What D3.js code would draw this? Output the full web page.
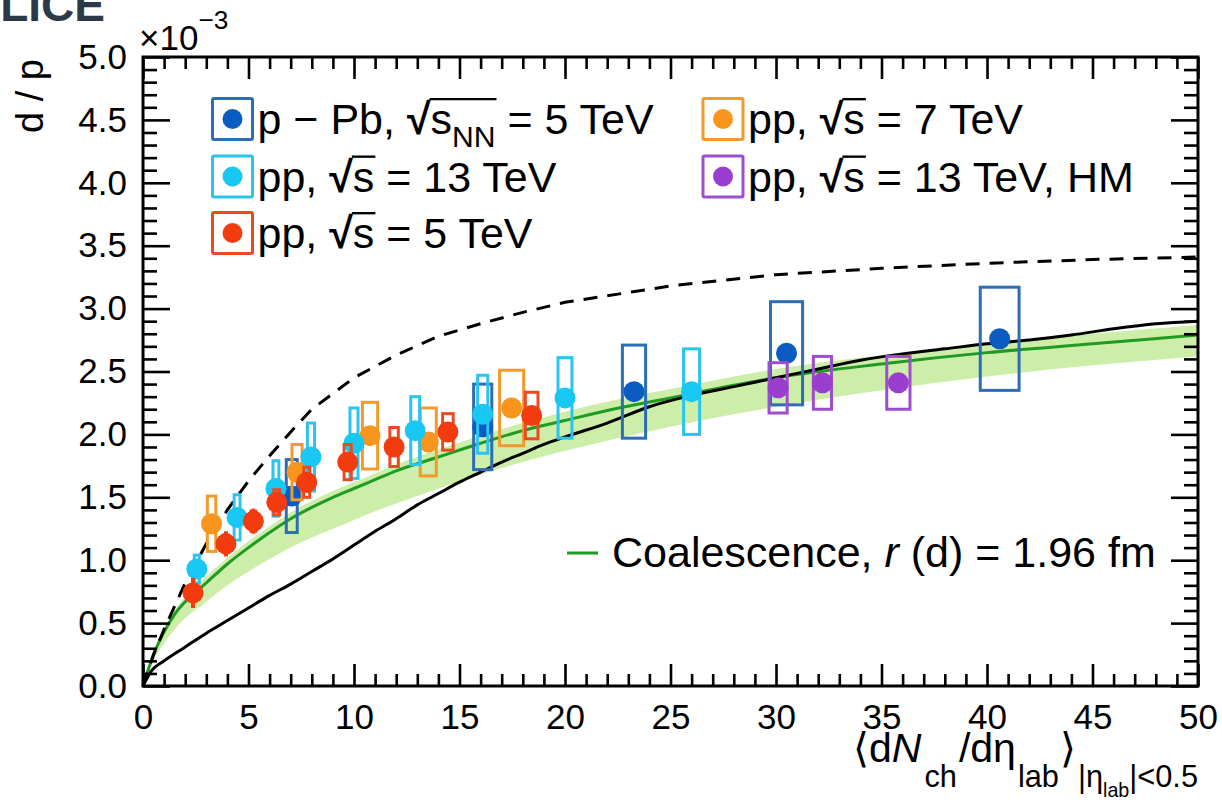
<!DOCTYPE html>
<html><head><meta charset="utf-8">
<script src="https://cdn.jsdelivr.net/npm/d3@7"></script>
<style>
body{margin:0;background:#fff;overflow:hidden;}
svg{display:block;}
text{font-family:"Liberation Sans",Arial,sans-serif;}
</style></head><body>
<svg id="chart" width="1222" height="800"></svg>
<script>
// ---------- data ----------
const xMajorTicks = [0, 5, 10, 15, 20, 25, 30, 35, 40, 45, 50];
const yMajorTicks = [0, 0.5, 1, 1.5, 2, 2.5, 3, 3.5, 4, 4.5, 5];

// p-Pb, sqrt(sNN) = 5 TeV
const pPbX    = [7.05, 16.1, 23.27, 30.5, 40.6];
const pPbY    = [1.51, 2.06, 2.34, 2.645, 2.76];
const pPbStat = [0.04, 0.04, 0.04, 0.04, 0.04];
const pPbSys  = [0.29, 0.34, 0.37, 0.41, 0.41];
const pPbSysW = [0.26, 0.43, 0.55, 0.76, 0.92];

// pp, sqrt(s) = 13 TeV
const pp13X    = [2.55, 4.46, 6.3, 7.96, 10.0, 12.9, 16.1, 20.0, 26.0];
const pp13Y    = [0.93, 1.34, 1.57, 1.82, 1.93, 2.03, 2.16, 2.29, 2.34];
const pp13Stat = [0.05, 0.05, 0.05, 0.05, 0.04, 0.04, 0.04, 0.04, 0.04];
const pp13Sys  = [0.11, 0.18, 0.22, 0.27, 0.28, 0.27, 0.31, 0.32, 0.34];
const pp13SysW = [0.12, 0.14, 0.14, 0.17, 0.19, 0.21, 0.24, 0.33, 0.38];

// pp, sqrt(s) = 7 TeV
const pp7X    = [3.25, 7.3, 10.76, 13.52, 17.47];
const pp7Y    = [1.29, 1.70, 1.99, 1.94, 2.21];
const pp7Stat = [0.04, 0.04, 0.04, 0.04, 0.04];
const pp7Sys  = [0.22, 0.22, 0.265, 0.27, 0.30];
const pp7SysW = [0.2, 0.24, 0.36, 0.38, 0.57];

// pp, sqrt(s) = 5 TeV
const pp5X    = [2.37, 3.93, 5.23, 6.34, 7.76, 9.7, 11.9, 14.45, 18.42];
const pp5Y    = [0.74, 1.13, 1.31, 1.46, 1.62, 1.78, 1.90, 2.02, 2.15];
const pp5Stat = [0.12, 0.1, 0.1, 0.08, 0.08, 0.06, 0.06, 0.06, 0.06];
const pp5Sys  = [0.06, 0.07, 0.08, 0.1, 0.12, 0.14, 0.155, 0.145, 0.185];
const pp5SysW = [0.1, 0.12, 0.12, 0.14, 0.14, 0.17, 0.2, 0.25, 0.3];

// pp, sqrt(s) = 13 TeV, high multiplicity
const ppHMX    = [30.1, 32.2, 35.8];
const ppHMY    = [2.37, 2.41, 2.41];
const ppHMStat = [0.03, 0.03, 0.03];
const ppHMSys  = [0.2, 0.21, 0.21];
const ppHMSysW = [0.43, 0.43, 0.55];

// coalescence model, r(d) = 1.96 fm: central line and band
const coalX  = [0, 0.5, 1, 1.5, 2, 3, 4, 5, 6, 7, 8, 9, 10, 11, 12, 14, 16, 18, 20, 22, 25, 28, 30, 35, 40, 45, 50];
const coalY  = [0, 0.25, 0.43, 0.57, 0.67, 0.82, 0.97, 1.1, 1.22, 1.33, 1.42, 1.5, 1.57, 1.64, 1.71, 1.82, 1.93, 2.03, 2.11, 2.19, 2.29, 2.39, 2.45, 2.56, 2.65, 2.72, 2.79];
const coalHi = [0, 0.27, 0.46, 0.6, 0.71, 0.87, 1.02, 1.15, 1.27, 1.38, 1.47, 1.55, 1.62, 1.69, 1.76, 1.88, 1.99, 2.09, 2.18, 2.26, 2.36, 2.46, 2.52, 2.63, 2.72, 2.80, 2.87];
const coalLo = [0, 0.2, 0.34, 0.45, 0.54, 0.67, 0.8, 0.91, 1.01, 1.1, 1.18, 1.25, 1.32, 1.39, 1.45, 1.57, 1.68, 1.78, 1.87, 1.95, 2.06, 2.16, 2.22, 2.35, 2.46, 2.55, 2.62];

// dashed model curve
const dashX = [0, 0.5, 1, 2, 3, 4, 5, 6, 7, 8, 10, 12, 14, 16, 18, 20, 25, 30, 35, 40, 45, 50];
const dashY = [0, 0.25, 0.45, 0.82, 1.13, 1.4, 1.63, 1.83, 2.02, 2.2, 2.45, 2.63, 2.78, 2.88, 2.97, 3.05, 3.18, 3.27, 3.32, 3.36, 3.39, 3.41];

// solid black model curve
const solidX = [0, 0.4, 1, 2, 3, 4, 5, 6, 7, 8, 9, 10, 11, 12, 13, 14, 15, 16, 17, 18, 19, 20, 22, 24, 26, 28, 30, 32, 34, 36, 38, 40, 42, 44, 46, 48, 50];
const solidY = [0, 0.12, 0.2, 0.31, 0.42, 0.52, 0.62, 0.72, 0.81, 0.91, 1.01, 1.12, 1.23, 1.33, 1.44, 1.53, 1.62, 1.7, 1.78, 1.85, 1.92, 1.98, 2.09, 2.22, 2.31, 2.38, 2.45, 2.52, 2.59, 2.64, 2.68, 2.72, 2.75, 2.79, 2.84, 2.88, 2.9];

// ---------- layout ----------
const svg = d3.select("#chart");
const P = {l: 143, r: 1198, t: 57, b: 686};
const x = d3.scaleLinear().domain([0, 50]).range([P.l, P.r]);
const y = d3.scaleLinear().domain([0, 5]).range([P.b, P.t]);

const series = [
  {name: "pPb",  xs: pPbX,  ys: pPbY,  st: pPbStat,  sy: pPbSys,  sw: pPbSysW,  fill: "#0b5cc2", box: "#2c6db5"},
  {name: "pp7",  xs: pp7X,  ys: pp7Y,  st: pp7Stat,  sy: pp7Sys,  sw: pp7SysW,  fill: "#f7951c", box: "#f29b2d"},
  {name: "pp13", xs: pp13X, ys: pp13Y, st: pp13Stat, sy: pp13Sys, sw: pp13SysW, fill: "#19c8f2", box: "#2bc4ee"},
  {name: "pp5",  xs: pp5X,  ys: pp5Y,  st: pp5Stat,  sy: pp5Sys,  sw: pp5SysW,  fill: "#f23c10", box: "#e94a22"},
  {name: "ppHM", xs: ppHMX, ys: ppHMY, st: ppHMStat, sy: ppHMSys, sw: ppHMSysW, fill: "#9a3ed0", box: "#9c4fcb"}
];

// ---------- model curves ----------
const band = d3.area()
  .x((d, i) => x(coalX[i]))
  .y0((d, i) => y(coalLo[i]))
  .y1((d, i) => y(coalHi[i]))
  .curve(d3.curveMonotoneX);
svg.append("path").datum(coalX).attr("d", band).attr("fill", "#cdeea8");

svg.append("path").datum(coalX)
  .attr("d", d3.line().x((d, i) => x(coalX[i])).y((d, i) => y(coalY[i])).curve(d3.curveMonotoneX))
  .attr("fill", "none").attr("stroke", "#1f9a22").attr("stroke-width", 3);

svg.append("path").datum(solidX)
  .attr("d", d3.line().x((d, i) => x(solidX[i])).y((d, i) => y(solidY[i])).curve(d3.curveMonotoneX))
  .attr("fill", "none").attr("stroke", "#000").attr("stroke-width", 3);

svg.append("path").datum(dashX)
  .attr("d", d3.line().x((d, i) => x(dashX[i])).y((d, i) => y(dashY[i])))
  .attr("fill", "none").attr("stroke", "#000").attr("stroke-width", 3)
  .attr("stroke-dasharray", "14,10");

// ---------- data points ----------
const gData = svg.append("g");
series.forEach(s => {
  const g = gData.append("g").attr("class", "s-" + s.name);
  const idx = d3.range(s.xs.length);
  g.selectAll("rect.sys").data(idx).join("rect").attr("class", "sys")
    .attr("x", i => x(s.xs[i] - s.sw[i]))
    .attr("width", i => x(s.xs[i] + s.sw[i]) - x(s.xs[i] - s.sw[i]))
    .attr("y", i => y(s.ys[i] + s.sy[i]))
    .attr("height", i => y(s.ys[i] - s.sy[i]) - y(s.ys[i] + s.sy[i]))
    .attr("fill", "none").attr("stroke", s.box).attr("stroke-width", 3);
});
series.forEach(s => {
  const g = gData.select(".s-" + s.name);
  const idx = d3.range(s.xs.length);
  g.selectAll("line.stat").data(idx).join("line").attr("class", "stat")
    .attr("x1", i => x(s.xs[i])).attr("x2", i => x(s.xs[i]))
    .attr("y1", i => y(s.ys[i] + s.st[i])).attr("y2", i => y(s.ys[i] - s.st[i]))
    .attr("stroke", s.fill).attr("stroke-width", 4);
  g.selectAll("circle").data(idx).join("circle")
    .attr("cx", i => x(s.xs[i])).attr("cy", i => y(s.ys[i]))
    .attr("r", 10.5).attr("fill", s.fill);
});

// ---------- axes ----------
const xMinor = d3.range(0, 51, 1).filter(v => v % 5 !== 0);
const yMinor = d3.range(0, 51, 1).map(v => v / 10).filter((v, i) => i % 5 !== 0);

function styleAxis(g) {
  g.select(".domain").remove();
  g.selectAll("line").attr("stroke", "#000").attr("stroke-width", 2.6);
  g.selectAll("text").attr("fill", "#000").attr("font-family", "Liberation Sans, Arial, sans-serif");
}
svg.append("g").attr("transform", `translate(0,${P.b})`)
  .call(d3.axisBottom(x).tickValues(xMajorTicks).tickSize(-22).tickPadding(18).tickFormat(d3.format("d")))
  .call(styleAxis).selectAll("text").attr("font-size", 35);
svg.append("g").attr("transform", `translate(0,${P.b})`)
  .call(d3.axisBottom(x).tickValues(xMinor).tickSize(-12).tickFormat(""))
  .call(styleAxis);
svg.append("g").attr("transform", `translate(0,${P.t})`)
  .call(d3.axisTop(x).tickValues(xMajorTicks).tickSize(-22).tickFormat(""))
  .call(styleAxis);
svg.append("g").attr("transform", `translate(0,${P.t})`)
  .call(d3.axisTop(x).tickValues(xMinor).tickSize(-12).tickFormat(""))
  .call(styleAxis);
svg.append("g").attr("transform", `translate(${P.l},0)`)
  .call(d3.axisLeft(y).tickValues(yMajorTicks).tickSize(-27).tickPadding(16).tickFormat(d3.format(".1f")))
  .call(styleAxis).selectAll("text").attr("font-size", 35);
svg.append("g").attr("transform", `translate(${P.l},0)`)
  .call(d3.axisLeft(y).tickValues(yMinor).tickSize(-14).tickFormat(""))
  .call(styleAxis);
svg.append("g").attr("transform", `translate(${P.r},0)`)
  .call(d3.axisRight(y).tickValues(yMajorTicks).tickSize(-27).tickFormat(""))
  .call(styleAxis);
svg.append("g").attr("transform", `translate(${P.r},0)`)
  .call(d3.axisRight(y).tickValues(yMinor).tickSize(-14).tickFormat(""))
  .call(styleAxis);

svg.append("rect").attr("x", P.l).attr("y", P.t)
  .attr("width", P.r - P.l).attr("height", P.b - P.t)
  .attr("fill", "none").attr("stroke", "#000").attr("stroke-width", 3);

// ---------- rich text helper (sub/superscripts) ----------
function rich(parent, px, py, size, segs, anchor) {
  const t = parent.append("text").attr("x", px).attr("y", py)
    .attr("font-size", size).attr("text-anchor", anchor || "start").attr("fill", "#000");
  let shift = 0;
  segs.forEach(s => {
    const sh = (s.shift || 0) * size;
    const ts = t.append("tspan").text(s.t).attr("dy", sh - shift)
      .attr("font-size", size * (s.scale || 1));
    if (s.it) ts.attr("font-style", "italic");
    if (s.fam) ts.attr("font-family", s.fam);
    if (s.w) ts.attr("font-weight", s.w);
    if (s.dx) ts.attr("dx", s.dx);
    shift = sh;
  });
  return t;
}

// ---------- titles ----------
svg.append("text").attr("x", -33).attr("y", 21)
  .attr("font-family", "DejaVu Sans Mono, monospace").attr("font-weight", "bold")
  .attr("font-size", 46).attr("fill", "#2c3a47").text("ALICE");

rich(svg, 139, 50, 35, [{t: "×10"}, {t: "−3", shift: -0.6, scale: 0.75}]);

svg.append("text").attr("transform", `translate(43,${P.t + 2}) rotate(-90)`)
  .attr("text-anchor", "end").attr("font-size", 38).text("d / p");

rich(svg, 1198, 762, 41, [
  {t: "⟨", fam: "DejaVu Sans"}, {t: "d"}, {t: "N", it: true},
  {t: "ch", shift: 0.6, scale: 0.75, dx: 3}, {t: "/d", shift: 0, dx: 2}, {t: "η"},
  {t: "lab", shift: 0.6, scale: 0.75, dx: 2}, {t: "⟩", shift: 0, fam: "DejaVu Sans", dx: 1},
  {t: "|η", shift: 0.62, scale: 0.75, dx: 2}, {t: "lab", shift: 0.85, scale: 0.48},
  {t: "|<0.5", shift: 0.62, scale: 0.75}
], "end");

// ---------- legend ----------
const LS = 43;
const legend = svg.append("g");
const legendItems = [
  {s: series[0], cx: 232.5, cy: 119, segs: [{t: "p − Pb, "}, {t: "√", w: "bold"}, {t: "s"}, {t: "NN", shift: 0.3, scale: 0.7}, {t: " = 5 TeV", shift: 0}], bar: [9, 11]},
  {s: series[2], cx: 232.5, cy: 176.5, segs: [{t: "pp, "}, {t: "√", w: "bold"}, {t: "s"}, {t: " = 13 TeV"}], bar: [5, 5]},
  {s: series[3], cx: 232.5, cy: 233, segs: [{t: "pp, "}, {t: "√", w: "bold"}, {t: "s"}, {t: " = 5 TeV"}], bar: [5, 5]},
  {s: series[1], cx: 723, cy: 119, segs: [{t: "pp, "}, {t: "√", w: "bold"}, {t: "s"}, {t: " = 7 TeV"}], bar: [5, 5]},
  {s: series[4], cx: 723, cy: 176.5, segs: [{t: "pp, "}, {t: "√", w: "bold"}, {t: "s"}, {t: " = 13 TeV, HM"}], bar: [5, 5]}
];
legendItems.forEach(it => {
  legend.append("rect").attr("x", it.cx - 20).attr("y", it.cy - 20.5).attr("width", 40).attr("height", 41)
    .attr("fill", "none").attr("stroke", it.s.box).attr("stroke-width", 3).attr("rx", 1.5);
  legend.append("circle").attr("cx", it.cx).attr("cy", it.cy).attr("r", 10).attr("fill", it.s.fill);
  const ty = it.cy + 15;
  const t = rich(legend, it.cx + 25, ty, LS, it.segs);
  const n = t.node();
  const x0 = n.getStartPositionOfChar(it.bar[0]).x - 1;
  const x1 = n.getEndPositionOfChar(it.bar[1]).x + 1;
  legend.append("line").attr("x1", x0).attr("x2", x1)
    .attr("y1", ty - 0.81 * LS).attr("y2", ty - 0.81 * LS).attr("stroke", "#000").attr("stroke-width", 2.4);
});

legend.append("line").attr("x1", 567).attr("x2", 598).attr("y1", 553).attr("y2", 553)
  .attr("stroke", "#1f9a22").attr("stroke-width", 3);
rich(legend, 612, 567, LS, [{t: "Coalescence, "}, {t: "r", it: true}, {t: " (d) = 1.96 fm"}]);
</script></body></html>
